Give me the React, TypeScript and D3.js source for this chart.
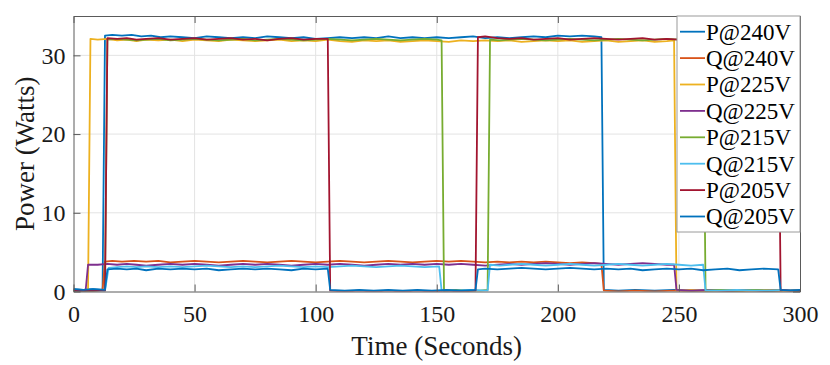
import React, { useRef, useEffect } from "react";
import * as d3 from "d3";

type Pt = [number, number];

const seriesNames = ["P@240V", "Q@240V", "P@225V", "Q@225V", "P@215V", "Q@215V", "P@205V", "Q@205V"];
const seriesColors = ["#0072BD", "#D95319", "#EDB120", "#7E2F8E", "#77AC30", "#4DBEEE", "#A2142F", "#0072BD"];
const xTicks = [0, 50, 100, 150, 200, 250, 300];
const yTicks = [0, 10, 20, 30];

// time (s), power (W)
const p240: Pt[] = [[0,0.3],[4,0.2],[8,0.3],[12,0.2],[13,32.5],[16,32.6],[20,32.5],[24,32.6],[28,32.4],[32,32.5],[36,32.3],[40,32.4],[45,32.3],[50,32.2],[55,32.4],[60,32.3],[65,32.2],[70,32.3],[75,32.2],[80,32.4],[85,32.3],[90,32.2],[95,32.3],[100,32.1],[105,32.2],[110,32.3],[115,32.2],[120,32.3],[125,32.2],[130,32.4],[135,32.2],[140,32.3],[145,32.2],[150,32.3],[155,32.2],[160,32.3],[165,32.4],[170,32.2],[175,32.3],[180,32.2],[185,32.3],[190,32.4],[195,32.3],[200,32.5],[205,32.4],[210,32.5],[215,32.4],[218,32.3],[219,0.2],[225,0.1],[232,0.2],[240,0.1],[248,0.2],[256,0.1],[264,0.2],[272,0.1],[280,0.2],[288,0.1],[296,0.2],[300,0.1]];
const q240: Pt[] = [[0,0.1],[6,0.0],[10,0.1],[12,0.2],[13,3.8],[16,3.9],[20,3.8],[25,3.9],[30,3.8],[35,3.9],[40,3.7],[45,3.8],[50,3.9],[55,3.8],[60,3.7],[65,3.8],[70,3.9],[75,3.8],[80,3.7],[85,3.8],[90,3.9],[95,3.8],[100,3.7],[105,3.8],[110,3.9],[115,3.8],[120,3.7],[125,3.8],[130,3.9],[135,3.8],[140,3.7],[145,3.8],[150,3.9],[155,3.8],[160,3.9],[165,3.8],[170,3.7],[175,3.8],[180,3.7],[185,3.8],[190,3.7],[195,3.8],[200,3.7],[205,3.6],[210,3.7],[215,3.6],[218,3.5],[219,0.1],[225,0.0],[232,0.1],[240,0.0],[248,0.1],[256,0.0],[264,0.1],[272,0.0],[280,0.1],[288,0.0],[296,0.1],[300,0.0]];
const p225: Pt[] = [[0,0.1],[3,0.2],[6,0.1],[7,32.1],[10,32.0],[14,32.1],[18,31.9],[22,32.0],[26,31.8],[30,32.0],[35,31.9],[40,32.0],[45,31.8],[50,32.0],[55,31.9],[60,31.8],[65,32.0],[70,31.9],[75,31.8],[80,31.9],[85,32.0],[90,31.8],[95,31.9],[100,31.8],[105,32.0],[110,31.8],[115,31.7],[120,31.9],[125,31.8],[130,31.9],[135,31.7],[140,31.8],[145,31.9],[150,31.8],[155,31.7],[160,31.9],[165,31.8],[170,31.9],[175,31.8],[180,31.9],[185,31.7],[190,31.8],[195,31.9],[200,31.8],[205,31.9],[210,31.7],[215,31.8],[220,31.9],[225,31.7],[230,31.8],[235,31.9],[240,31.7],[245,31.8],[248,31.9],[249,0.1],[255,0.2],[262,0.1],[270,0.2],[278,0.1],[286,0.2],[294,0.1],[300,0.1]];
const q225: Pt[] = [[0,0.1],[5,0.1],[6,3.4],[10,3.4],[14,3.5],[18,3.4],[22,3.5],[26,3.4],[30,3.3],[35,3.4],[40,3.5],[45,3.4],[50,3.5],[55,3.4],[60,3.3],[65,3.4],[70,3.5],[75,3.4],[80,3.5],[85,3.4],[90,3.3],[95,3.4],[100,3.5],[105,3.4],[110,3.5],[115,3.4],[120,3.3],[125,3.4],[130,3.5],[135,3.4],[140,3.5],[145,3.4],[150,3.5],[155,3.4],[160,3.5],[165,3.4],[170,3.3],[175,3.4],[180,3.5],[185,3.4],[190,3.5],[195,3.6],[200,3.5],[205,3.4],[210,3.5],[215,3.6],[220,3.5],[225,3.4],[230,3.5],[235,3.6],[240,3.5],[245,3.4],[248,3.4],[249,0.2],[255,0.1],[262,0.2],[270,0.1],[278,0.2],[286,0.1],[294,0.2],[300,0.1]];
const p215: Pt[] = [[0,0.1],[8,0.1],[13,0.2],[14,32.0],[18,32.1],[22,32.0],[26,31.9],[30,32.0],[35,32.1],[40,31.9],[45,32.0],[50,32.1],[55,32.0],[60,31.9],[65,32.0],[70,32.1],[75,31.9],[80,32.0],[85,32.1],[90,32.0],[95,31.9],[100,32.0],[105,32.1],[110,32.0],[115,31.9],[120,32.0],[125,32.1],[130,32.0],[135,31.9],[140,32.0],[145,32.1],[150,32.0],[152,31.9],[153,0.1],[158,0.2],[163,0.1],[168,0.1],[171,0.2],[172,32.0],[176,31.9],[180,32.0],[185,32.1],[190,32.0],[195,31.9],[200,32.0],[205,32.1],[210,32.0],[215,31.9],[220,32.0],[225,32.1],[230,32.0],[235,31.9],[240,32.0],[245,32.1],[250,32.0],[255,31.9],[260,32.0],[261,0.1],[267,0.2],[274,0.1],[281,0.2],[288,0.1],[295,0.2],[300,0.1]];
const q215: Pt[] = [[0,0.1],[8,0.1],[13,0.1],[14.5,3.0],[18,3.1],[22,3.2],[26,3.1],[30,3.2],[35,3.1],[40,3.2],[45,3.1],[50,3.2],[55,3.3],[60,3.2],[65,3.1],[70,3.2],[75,3.1],[80,3.2],[85,3.3],[90,3.2],[95,3.1],[100,3.2],[105,3.1],[110,3.2],[115,3.3],[120,3.2],[125,3.1],[130,3.2],[135,3.3],[140,3.2],[145,3.1],[151,3.2],[152,0.1],[158,0.1],[164,0.2],[171,0.1],[172,3.4],[176,3.3],[180,3.4],[185,3.5],[190,3.4],[195,3.3],[200,3.4],[205,3.5],[210,3.4],[215,3.3],[220,3.4],[225,3.5],[230,3.4],[235,3.3],[240,3.4],[245,3.5],[250,3.4],[255,3.3],[260,3.4],[261,0.1],[267,0.1],[274,0.2],[281,0.1],[288,0.1],[295,0.2],[300,0.1]];
const p205: Pt[] = [[0,0.1],[8,0.1],[13,0.1],[14,32.2],[18,32.1],[22,32.2],[26,32.0],[30,32.1],[35,32.2],[40,32.0],[45,32.1],[50,32.2],[55,32.0],[60,32.1],[65,32.2],[70,32.0],[75,32.1],[80,31.9],[85,32.1],[90,32.2],[95,32.0],[100,32.1],[105,32.1],[106,0.1],[112,0.0],[118,0.1],[124,0.0],[130,0.1],[136,0.0],[142,0.1],[148,0.0],[154,0.1],[160,0.0],[166,0.1],[167,32.3],[170,32.4],[175,32.2],[180,32.1],[185,32.2],[190,32.0],[195,32.1],[200,32.2],[205,32.0],[210,32.1],[215,32.2],[220,32.1],[225,32.0],[230,32.1],[235,32.2],[240,32.0],[245,32.1],[250,32.0],[255,32.1],[260,32.0],[265,32.1],[270,32.2],[275,32.0],[280,32.1],[285,32.0],[291,32.1],[292,0.2],[296,0.1],[300,0.1]];
const q205: Pt[] = [[0,0.3],[4,0.2],[8,0.3],[13,0.2],[14,2.8],[18,2.9],[22,2.8],[26,2.9],[30,2.7],[35,2.9],[40,2.8],[45,2.9],[50,2.8],[55,2.9],[60,2.7],[65,2.8],[70,2.9],[75,2.8],[80,2.9],[85,2.8],[90,2.7],[95,2.9],[100,2.8],[105,2.9],[106,0.2],[112,0.1],[118,0.2],[124,0.1],[130,0.2],[136,0.1],[142,0.2],[148,0.1],[154,0.2],[160,0.1],[166,0.2],[167,2.8],[170,2.9],[175,2.8],[180,2.9],[185,3.0],[190,2.9],[195,2.8],[200,2.9],[205,3.0],[210,2.9],[215,2.8],[220,2.9],[225,2.8],[230,2.9],[235,2.7],[240,2.8],[245,2.9],[250,2.8],[255,2.9],[260,2.7],[265,2.8],[270,2.9],[275,2.7],[280,2.8],[285,2.9],[291,2.8],[292,0.2],[296,0.1],[300,0.2]];

const allSeries = [p240, q240, p225, q225, p215, q215, p205, q205];

const W = 830;
const H = 365;
const FONT = "'Liberation Serif', 'Times New Roman', serif";

const PowerChart = () => {
  const ref = useRef<SVGSVGElement>(null);

  useEffect(() => {
    const svg = d3.select(ref.current);
    svg.selectAll("*").remove();

    const x = d3.scaleLinear().domain([0, 300]).range([73.5, 800]);
    const y = d3.scaleLinear().domain([0, 35]).range([291.5, 16]);
    const [x0, x1] = x.range();
    const [y0, y1] = y.range();

    svg.append("rect").attr("width", W).attr("height", H).attr("fill", "white");

    // grid
    const grid = svg.append("g").attr("stroke", "#e3e3e3").attr("stroke-width", 1);
    xTicks.slice(1, -1).forEach((t) => {
      grid.append("line").attr("x1", x(t)).attr("x2", x(t)).attr("y1", y0).attr("y2", y1);
    });
    yTicks.slice(1).forEach((t) => {
      grid.append("line").attr("x1", x0).attr("x2", x1).attr("y1", y(t)).attr("y2", y(t));
    });

    svg
      .append("clipPath")
      .attr("id", "plot-clip")
      .append("rect")
      .attr("x", x0)
      .attr("y", y1)
      .attr("width", x1 - x0)
      .attr("height", y0 - y1);

    const line = d3
      .line<Pt>()
      .x((d) => x(d[0]))
      .y((d) => y(d[1]));

    svg
      .append("g")
      .attr("clip-path", "url(#plot-clip)")
      .selectAll("path")
      .data(allSeries)
      .enter()
      .append("path")
      .attr("d", (d) => line(d))
      .attr("fill", "none")
      .attr("stroke", (_d, i) => seriesColors[i])
      .attr("stroke-width", 1.8)
      .attr("stroke-linejoin", "round");

    // axes, MATLAB style ticks pointing inward
    const styleAxis = (g: any) => {
      g.select(".domain").attr("stroke", "#5a5a5a");
      g.selectAll(".tick line").attr("stroke", "#5a5a5a");
      g.selectAll("text").attr("font-family", FONT).attr("font-size", 24).attr("fill", "#1a1a1a");
    };

    svg
      .append("g")
      .attr("transform", `translate(0,${y0})`)
      .call(d3.axisBottom(x).tickValues(xTicks).tickSize(-7).tickSizeOuter(0).tickPadding(13).tickFormat(d3.format("d")))
      .call(styleAxis);
    svg
      .append("g")
      .attr("transform", `translate(0,${y1})`)
      .call(d3.axisTop(x).tickValues(xTicks).tickSize(-7).tickSizeOuter(0).tickFormat(() => ""))
      .call(styleAxis);
    svg
      .append("g")
      .attr("transform", `translate(${x0},0)`)
      .call(d3.axisLeft(y).tickValues(yTicks).tickSize(-7).tickSizeOuter(0).tickPadding(8).tickFormat(d3.format("d")))
      .call(styleAxis);
    svg
      .append("g")
      .attr("transform", `translate(${x1},0)`)
      .call(d3.axisRight(y).tickValues(yTicks).tickSize(-7).tickSizeOuter(0).tickFormat(() => ""))
      .call(styleAxis);

    svg.selectAll(".domain").attr("fill", "none");

    // axis labels
    svg
      .append("text")
      .attr("x", (x0 + x1) / 2)
      .attr("y", 355)
      .attr("text-anchor", "middle")
      .attr("font-family", FONT)
      .attr("font-size", 27)
      .attr("fill", "#1a1a1a")
      .text("Time (Seconds)");
    svg
      .append("text")
      .attr("transform", `translate(34,${(y0 + y1) / 2}) rotate(-90)`)
      .attr("text-anchor", "middle")
      .attr("font-family", FONT)
      .attr("font-size", 27)
      .attr("fill", "#1a1a1a")
      .text("Power (Watts)");

    // legend
    const lg = svg.append("g");
    lg.append("rect")
      .attr("x", 677)
      .attr("y", y1)
      .attr("width", x1 - 677)
      .attr("height", 216)
      .attr("fill", "white")
      .attr("stroke", "#9a9a9a")
      .attr("stroke-width", 1);

    const rows = lg
      .selectAll("g.row")
      .data(seriesNames)
      .enter()
      .append("g")
      .attr("class", "row")
      .attr("transform", (_d, i) => `translate(0,${31.7 + i * 26.4})`);
    rows
      .append("line")
      .attr("x1", 680)
      .attr("x2", 705)
      .attr("stroke", (_d, i) => seriesColors[i])
      .attr("stroke-width", 1.8);
    rows
      .append("text")
      .attr("x", 706)
      .attr("y", 7.8)
      .attr("font-family", FONT)
      .attr("font-size", 23)
      .attr("fill", "#000")
      .text((d) => d);
  }, []);

  return <svg ref={ref} width={W} height={H} style={{ position: "absolute", left: 0, top: 0 }}></svg>;
};

export default function App() {
  return <PowerChart />;
}
